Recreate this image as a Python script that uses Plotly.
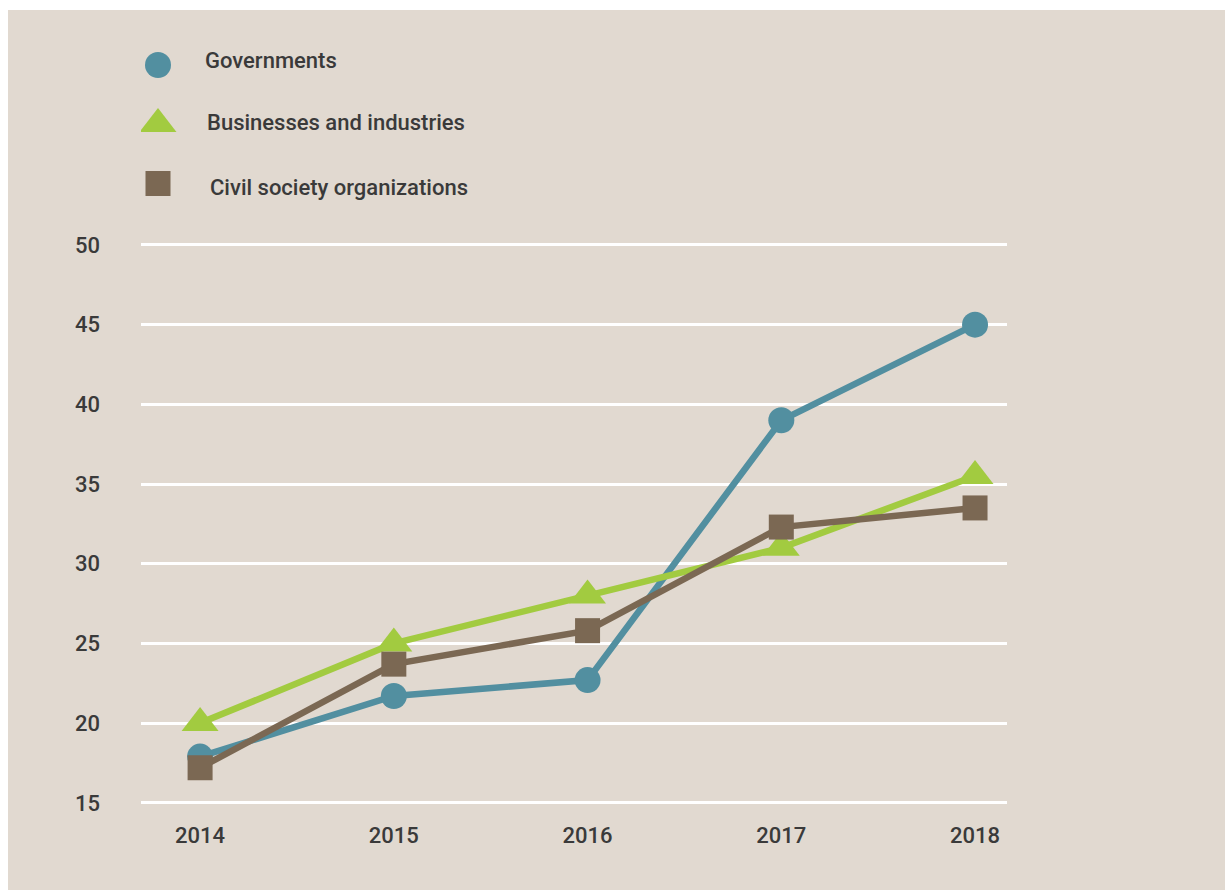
import plotly.graph_objects as go

# Survey years and share values per stakeholder group
years = [2014, 2015, 2016, 2017, 2018]
governments = [17.9, 21.7, 22.7, 39.0, 45.0]
businesses = [20.0, 25.0, 28.0, 31.0, 35.5]
civil_society = [17.2, 23.7, 25.8, 32.3, 33.5]

series_names = ["Governments", "Businesses and industries", "Civil society organizations"]
y_ticks = [15, 20, 25, 30, 35, 40, 45, 50]

BLUE = "#528fa0"
GREEN = "#a2cb40"
BROWN = "#7b6853"
PANEL = "#e1d9d0"
TEXT = "#3a3a3a"
FONT = "Roboto, 'Noto Sans', sans-serif"
FS = 22

styles = [
    dict(color=BLUE, symbol="circle", size=26),
    dict(color=GREEN, symbol="triangle-up", size=32),
    dict(color=BROWN, symbol="square", size=25),
]

W, H = 1225, 890
plot_left, plot_right = 141, 1007
plot_top = 10
y_lo, y_hi = 14.8, 50.2          # a little padding so the 15 and 50 gridlines show
px_per_unit = 558 / 35.0
plot_bottom = 803 + (15 - y_lo) * px_per_unit
grid_top = 245 - (y_hi - 50) * px_per_unit

fig = go.Figure()

for name, values, st in zip(series_names, [governments, businesses, civil_society], styles):
    fig.add_trace(go.Scatter(
        x=years, y=values, name=name, mode="lines+markers",
        line=dict(color=st["color"], width=6.5),
        marker=dict(color=st["color"], symbol=st["symbol"], size=st["size"]),
        showlegend=False, hoverinfo="x+y+name",
    ))

# Custom key drawn on its own pixel-scaled axes above the chart
key_rows = [65, 124, 183.5]
key_text_x = [203, 205, 208]
key_text_y = [60.5, 123, 188]
for name, st, ky in zip(series_names, styles, key_rows):
    fig.add_trace(go.Scatter(
        x=[158], y=[ky], mode="markers", xaxis="x2", yaxis="y2",
        marker=dict(color=st["color"], symbol=st["symbol"], size=st["size"]),
        showlegend=False, hoverinfo="skip",
    ))
for name, tx, ty in zip(series_names, key_text_x, key_text_y):
    fig.add_annotation(
        x=tx, y=ty, xref="x2", yref="y2", text=name, showarrow=False,
        xanchor="left", yanchor="middle",
        font=dict(family=FONT, size=FS, color=TEXT, weight=500),
    )

total_h = plot_bottom - plot_top
grid_frac = (plot_bottom - grid_top) / total_h

fig.update_layout(
    width=W, height=H,
    margin=dict(l=plot_left, r=W - plot_right, t=plot_top, b=H - plot_bottom,
                pad=0, autoexpand=False),
    paper_bgcolor="white",
    plot_bgcolor="rgba(0,0,0,0)",
    font=dict(family=FONT, size=FS, color=TEXT, weight=500),
    xaxis=dict(
        range=[2013.695, 2018.165], tickmode="array", tickvals=years,
        ticktext=[str(y) for y in years], showgrid=False, zeroline=False,
        showline=False, ticks="", ticklabelstandoff=14, automargin=False,
        tickfont=dict(family=FONT, size=FS, color=TEXT, weight=500),
    ),
    yaxis=dict(
        domain=[0, grid_frac], range=[y_lo, y_hi], tickmode="array", tickvals=y_ticks,
        showgrid=True, gridcolor="white", gridwidth=2.5, zeroline=False,
        showline=False, ticks="", ticklabelstandoff=40, automargin=False,
        tickfont=dict(family=FONT, size=FS, color=TEXT, weight=500),
    ),
    xaxis2=dict(domain=[0, 1], range=[plot_left, plot_right], anchor="y2",
                visible=False, fixedrange=True, automargin=False),
    yaxis2=dict(domain=[grid_frac, 1], range=[grid_top, plot_top], anchor="x2",
                visible=False, fixedrange=True, automargin=False),
    showlegend=False,
)

# Beige panel behind everything, leaving a thin white strip at top and left
fig.add_shape(
    type="rect", xref="paper", yref="paper", layer="below",
    x0=(8 - plot_left) / (plot_right - plot_left),
    x1=(W + 5 - plot_left) / (plot_right - plot_left),
    y0=(plot_bottom - (H + 5)) / total_h,
    y1=(plot_bottom - 10) / total_h,
    fillcolor=PANEL, line=dict(width=0),
)

fig.write_html("out.html")
